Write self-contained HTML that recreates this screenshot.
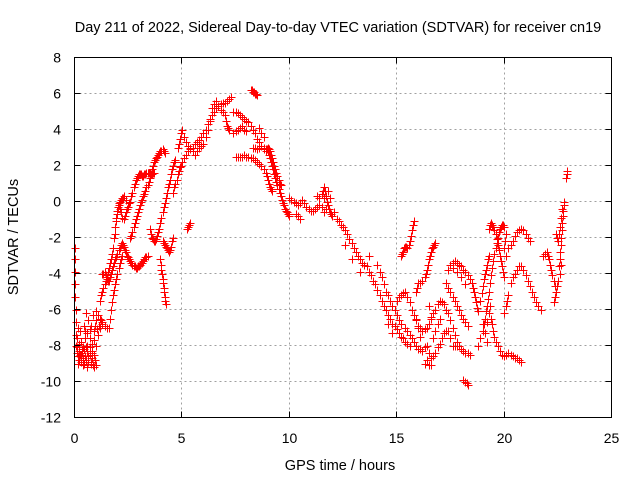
<!DOCTYPE html>
<html><head><meta charset="utf-8"><style>
body{margin:0;background:#fff}
svg{display:block;font-family:"Liberation Sans",sans-serif}
</style></head><body>
<svg id="chart" width="640" height="480">
<rect width="640" height="480" fill="#fff"/>
<g id="grid"></g>
<g id="pts"></g>
<rect x="74.5" y="57.5" width="537" height="360" fill="none" stroke="#000"/>
<g id="axes"></g>
<text x="338" y="32" font-size="14.5" text-anchor="middle">Day 211 of 2022, Sidereal Day-to-day VTEC variation (SDTVAR) for receiver cn19</text>
<text x="340" y="470" font-size="14.5" text-anchor="middle">GPS time / hours</text>
<text transform="translate(18,237) rotate(-90)" font-size="14.5" text-anchor="middle">SDTVAR / TECUs</text>
</svg>
<script>
const xTicks=[0,5,10,15,20,25];
const yTicks=[8,6,4,2,0,-2,-4,-6,-8,-10,-12];
const trackStart=[[0,-2.6],[0.01,-3.2],[0.02,-3.9],[0.03,-4.6],[0.04,-5.3],[0.05,-6],[0.06,-6.7],[0.07,-7.4],[0.08,-8],[0.1,-8.4],[0.15,-8.6],[0.2,-8.8],[0.25,-8.5],[0.3,-8.9],[0.35,-8.2],[0.4,-8.7],[0.45,-9],[0.5,-8.6],[0.55,-8.8],[0.6,-8.3],[0.65,-8.9],[0.7,-8.5],[0.75,-9],[0.8,-8.7],[0.85,-9.1],[0.9,-9.2],[0.95,-8.8],[1,-9.1],[0.12,-8.1],[0.22,-8.3],[0.32,-8.5],[0.42,-8.2],[0.52,-8.1],[0.62,-8.6],[0.72,-8.1],[0.82,-8.4],[0.92,-8.5],[0.18,-9],[0.38,-9.1],[0.58,-9.2],[0.78,-8.9]];
const trackCluster=[[0.1,-7.6],[0.2,-7.9],[0.3,-7.8],[0.4,-8.1],[0.5,-7.6],[0.6,-7.3],[0.7,-7.6],[0.8,-7.9],[0.9,-7.2],[0.55,-6.2],[0.65,-6.6],[0.75,-6.9],[0.85,-6.3],[1.0,-6.6],[0.25,-7.2],[0.45,-6.9],[0.15,-7],[0.35,-8.4],[0.6,-8],[0.8,-8.3],[1.1,-7.4],[1.2,-7],[1.3,-6.8],[0.5,-7.2],[0.7,-7.1],[0.9,-7.7],[1.0,-8],[1.05,-7.1],[1.15,-6.9],[1.25,-6.6],[0.95,-6.9]];
const trackRise1=[[1.2,-5.5],[1.25,-5.2],[1.3,-5],[1.35,-4.8],[1.4,-4.6],[1.45,-4.4],[1.5,-4.2],[1.55,-3.9],[1.6,-3.7],[1.65,-3.4],[1.7,-3.2],[1.75,-2.9],[1.8,-2.6],[1.85,-2],[1.9,-1.4],[1.95,-0.9],[2,-0.5],[2.05,-0.1],[2.1,0],[2.15,0.1],[2.2,0.2],[2.25,0.2],[2.3,0.3],[2.4,0.1],[1.88,-1.8],[1.92,-1.1],[1.98,-0.7],[2.02,-0.3],[2.08,-0.2],[2.12,-0.4],[2.18,-0.6],[2.22,-0.9]];
const trackRise2=[[1.3,-4],[1.35,-4],[1.4,-3.9],[1.45,-4.1],[1.5,-4.3],[1.55,-4.4],[1.6,-4.4],[1.65,-4.2],[1.7,-4],[1.75,-3.8],[1.8,-3.6],[1.85,-3.4],[1.9,-3.2],[1.95,-3.1],[2,-2.9],[2.05,-2.7],[2.1,-2.6],[2.15,-2.4],[2.2,-2.3],[2.25,-2.4],[2.3,-2.5],[2.35,-2.7],[2.4,-2.8],[2.45,-3],[2.5,-3.1],[2.55,-3.2],[2.6,-3.3],[2.65,-3.4],[2.7,-3.5],[2.75,-3.6],[2.8,-3.6],[2.85,-3.7],[2.9,-3.7],[2.95,-3.6],[3.0,-3.6],[3.05,-3.5],[3.1,-3.4],[3.15,-3.4],[3.2,-3.3],[3.25,-3.2],[3.3,-3.1],[3.35,-3.1],[3.4,-3]];
const trackRise3=[[1.6,-7],[1.65,-6.5],[1.7,-6],[1.75,-5.6],[1.8,-5.2],[1.85,-4.9],[1.9,-4.6],[1.95,-4.3],[2,-4],[2.05,-3.7],[2.1,-3.4],[2.15,-3.2],[2.2,-3],[1.0,-6.1],[1.1,-6.3],[1.2,-6.5],[1.3,-6.7],[1.4,-6.9],[1.5,-7]];
const trackMid1=[[2.3,-1],[2.35,-0.8],[2.4,-0.6],[2.45,-0.4],[2.5,-0.3],[2.55,-0.1],[2.6,0],[2.65,0.3],[2.7,0.5],[2.75,0.8],[2.8,1],[2.85,1.2],[2.9,1.3],[2.95,1.4],[3.0,1.5],[3.05,1.5],[3.1,1.5],[3.15,1.4],[3.2,1.4],[3.25,1.5],[3.3,1.5],[3.35,1.6],[3.4,1.6],[3.45,1.6],[3.5,1.6],[3.55,1.5],[3.6,1.5],[3.65,1.6],[3.7,1.6]];
const trackMid2=[[2.6,-2],[2.65,-1.9],[2.7,-1.7],[2.75,-1.4],[2.8,-1.2],[2.85,-1],[2.9,-0.8],[2.95,-0.6],[3.0,-0.4],[3.05,-0.2],[3.1,0],[3.15,0.1],[3.2,0.3],[3.25,0.4],[3.3,0.6],[3.35,0.8],[3.4,0.9],[3.45,1.1],[3.5,1.3],[3.55,1.5],[3.6,1.8],[3.65,2],[3.7,2.2],[3.75,2.3],[3.8,2.4],[3.85,2.5],[3.9,2.6],[3.95,2.7],[4.0,2.8],[4.05,2.8],[4.1,2.9],[4.15,2.8],[4.2,2.7]];
const trackMid3=[[3.5,-1.5],[3.55,-1.8],[3.6,-2],[3.65,-2.1],[3.7,-2.2],[3.75,-2.2],[3.8,-2.1],[3.85,-1.9],[3.9,-1.7],[3.95,-1.5],[4.0,-1.2],[4.05,-0.9],[4.1,-0.6],[4.15,-0.3],[4.2,-0.1],[4.25,0.2],[4.3,0.5],[4.35,0.8],[4.4,1],[4.45,1.2],[4.5,1.5],[4.55,1.8],[4.6,2],[4.65,2.2],[4.7,2.3]];
const trackDrop=[[4.0,-3.2],[4.03,-3.5],[4.05,-3.8],[4.08,-4],[4.1,-4.3],[4.13,-4.5],[4.15,-4.8],[4.18,-5],[4.2,-5.3],[4.23,-5.5],[4.25,-5.7]];
const trackDip=[[4.1,-2.2],[4.15,-2.3],[4.2,-2.4],[4.25,-2.5],[4.3,-2.6],[4.35,-2.7],[4.4,-2.8],[4.45,-2.7],[4.5,-2.5],[4.55,-2.2],[4.6,-2]];
const trackMain=[[4.6,0.5],[4.65,0.8],[4.7,1],[4.75,1.2],[4.8,1.5],[4.85,1.7],[4.9,1.9],[4.95,2],[5.0,2.2],[5.1,2.4],[5.2,2.6],[5.3,2.8],[5.4,2.9],[5.5,3],[5.6,3.2],[5.7,3.3],[5.8,3.4],[5.9,3.6],[6.0,3.8],[6.1,4],[6.2,4.3],[6.3,4.5],[6.4,4.8],[6.5,5],[6.6,5.2],[6.7,5.3],[6.8,5.4],[6.9,5.5],[7.0,5.5],[7.1,5.6],[7.2,5.7],[7.3,5.8]];
const trackMain2=[[4.8,3],[4.85,3.2],[4.9,3.5],[4.95,3.8],[5.0,4],[5.1,3.6],[5.2,3.3],[5.3,3.1],[5.4,3.0],[5.5,2.8],[5.6,2.6],[5.7,2.8],[5.8,3],[5.9,3.1],[6.0,3.2],[6.1,3.6],[6.2,4],[6.3,4.6],[6.4,5.2],[6.5,5.4],[6.6,5.6],[6.7,5.3],[6.8,5.1],[6.9,5],[7.0,4.8],[7.05,4.5],[7.1,4.2],[7.15,4.1],[7.2,4.0],[5.3,-1.4],[5.35,-1.3],[5.4,-1.2],[5.25,-1.5]];
const trackPeak=[[8.2,6.2],[8.25,6.2],[8.3,6.1],[8.35,6.1],[8.4,6.0],[8.45,6.0],[8.5,5.9]];
const trackDecl1=[[7.4,5],[7.5,5],[7.6,4.9],[7.7,4.8],[7.8,4.7],[7.9,4.6],[8.0,4.5],[8.1,4.4],[8.2,4.2],[8.3,4],[8.4,3.8],[8.5,3.5],[8.6,3.3],[8.7,3.1],[8.8,3],[8.9,2.9],[9.0,2.8],[9.05,2.6],[9.1,2.4],[9.15,2.2],[9.2,2],[9.25,1.8],[9.3,1.5],[9.35,1.3],[9.4,1.1],[9.45,0.9],[9.5,0.7],[9.55,0.5],[9.6,0.3],[9.65,0.1],[9.7,-0.1],[9.75,-0.2],[9.8,-0.4],[9.85,-0.5],[9.9,-0.6],[9.95,-0.7],[10.0,-0.8]];
const trackDecl2=[[7.5,2.5],[7.6,2.5],[7.7,2.5],[7.8,2.5],[7.9,2.6],[8.0,2.5],[8.1,2.5],[8.2,2.4],[8.3,2.4],[8.4,2.3],[8.5,2.2],[8.6,2.1],[8.7,2.0],[8.8,1.8],[8.9,1.6],[8.95,1.4],[9.0,1.2],[9.05,1],[9.1,0.8],[9.15,0.7],[9.2,0.6]];
const trackDecl3=[[8.3,3],[8.4,3],[8.5,2.9],[8.6,3],[8.7,3.1],[8.8,2.9],[8.9,2.8],[8.95,2.9],[9.0,3],[9.05,2.9],[9.1,2.8],[9.15,2.6],[9.2,2.4],[9.25,2.2],[9.3,2],[9.35,1.8],[9.4,1.6],[9.45,1.4],[9.5,1.2],[9.55,1.0],[9.6,0.9],[7.4,3.8],[7.5,3.9],[7.6,4.0],[7.7,4.1],[7.8,4.2],[7.9,4.0],[8.0,3.9],[8.6,4.1],[8.7,3.8],[8.8,3.6]];
const trackFlat=[[10.0,0.2],[10.1,0.1],[10.2,0],[10.3,-0.1],[10.4,-0.2],[10.5,-0.1],[10.6,0.1],[10.7,-0.1],[10.8,-0.3],[10.9,-0.4],[11.0,-0.5],[11.1,-0.5],[11.2,-0.4],[11.3,-0.3],[11.4,-0.2],[11.5,0.4],[11.55,0.6],[11.6,0.8],[11.65,0.6],[11.7,0.3],[11.75,0],[11.8,-0.2],[11.85,-0.4],[11.9,-0.6],[11.95,-0.7],[12.0,-0.8],[12.1,-0.6],[10.3,-0.7],[10.4,-0.8],[10.5,-1],[11.3,0.3],[11.4,0.2],[11.6,-0.6],[11.7,-0.4],[11.8,0.6],[11.9,0.2],[11.5,-0.3],[11.6,0.2]];
const trackFall=[[12.2,-1],[12.3,-1.1],[12.4,-1.3],[12.5,-1.4],[12.6,-1.6],[12.7,-1.8],[12.8,-2.1],[12.9,-2.3],[13.0,-2.6],[13.1,-2.8],[13.2,-3],[13.3,-3.2],[13.4,-3.4],[13.5,-3.5],[13.6,-3.6],[13.7,-3.9],[13.8,-4.1],[13.9,-4.4],[14.0,-4.6],[14.1,-4.9],[14.2,-5.2],[14.3,-5.5],[14.4,-5.8],[14.5,-6],[14.6,-6.3],[14.7,-6.5],[14.8,-6.8],[14.9,-6.9],[15.0,-7.1],[15.1,-7.3],[15.2,-7.5],[15.3,-7.6],[15.4,-7.8],[15.5,-7.9],[15.6,-8],[12.6,-2.4],[12.9,-3.2],[13.3,-3.9],[13.7,-3],[14.1,-3.5],[14.2,-3.9],[14.3,-4.2],[14.4,-4.6],[14.5,-5],[14.6,-5.2],[14.7,-5.5],[14.8,-5.8],[14.9,-6],[15.0,-6.3],[15.1,-6.6],[15.2,-6.8],[14.6,-6.8],[14.8,-7.3]];
const trackLate1=[[15.2,-3],[15.25,-2.9],[15.3,-2.8],[15.35,-2.6],[15.4,-2.5],[15.45,-2.5],[15.5,-2.6],[15.55,-2.4],[15.6,-2.2],[15.65,-1.9],[15.7,-1.6],[15.75,-1.3],[15.8,-1.1]];
const trackLate2=[[15.0,-5.5],[15.1,-5.3],[15.2,-5.2],[15.3,-5.1],[15.4,-5],[15.5,-5.3],[15.6,-5.6],[15.7,-6],[15.8,-6.3],[15.9,-6.6],[16.0,-6.9],[16.1,-7],[16.2,-7.2],[16.3,-7.1],[16.4,-7],[16.5,-6.8],[16.6,-6.5],[16.7,-6.2],[16.8,-6],[16.9,-5.7],[17.0,-5.5],[17.1,-5.6],[17.2,-5.7],[17.3,-6],[17.4,-6.2],[17.5,-6.6],[17.6,-7],[17.7,-7.4],[17.8,-7.8],[17.9,-8],[18.0,-8.2],[18.1,-8.3],[18.2,-8.4],[18.3,-8.4],[18.4,-8.5]];
const trackLate3=[[15.4,-7],[15.5,-7.2],[15.6,-7.4],[15.7,-7.6],[15.8,-7.8],[15.9,-8],[16.0,-8.2],[16.1,-8.2],[16.2,-8.3],[16.3,-8.1],[16.4,-8],[16.5,-8.4],[16.6,-8.7],[16.7,-8.6],[16.8,-8.4],[16.9,-8.1],[17.0,-7.9],[17.1,-7.6],[17.2,-7.3],[17.3,-7.2],[17.4,-7.2],[17.5,-7.6],[17.6,-8],[17.7,-8],[17.8,-8],[16.3,-9],[16.4,-8.8],[16.5,-9.1],[16.6,-9.1],[15.9,-6.5],[16.0,-7],[16.1,-7.5],[16.5,-5.8],[16.6,-6.4],[16.7,-7.6],[16.8,-7.2],[16.9,-6.8],[17.0,-6.5]];
const trackLate4=[[16.3,-4.2],[16.35,-4],[16.4,-3.8],[16.45,-3.5],[16.5,-3.2],[16.55,-3],[16.6,-2.8],[16.65,-2.6],[16.7,-2.5],[16.75,-2.4],[16.8,-2.3],[16.0,-4.5],[15.95,-4.8],[15.9,-5],[16.2,-4.4],[16.1,-4.5]];
const trackLate5=[[17.5,-3.5],[17.6,-3.4],[17.7,-3.3],[17.8,-3.4],[17.9,-3.5],[18.0,-3.6],[18.1,-3.8],[18.2,-3.9],[18.3,-4.1],[18.4,-4.3],[18.5,-4.5],[18.55,-4.8],[18.6,-5],[18.65,-5.3],[18.7,-5.6],[18.75,-5.9],[18.8,-6.1],[17.3,-4.5],[17.4,-4.8],[17.5,-5],[17.6,-5.3],[17.7,-5.5],[17.8,-5.8],[17.9,-6],[18.0,-6.3],[18.1,-6.5],[18.2,-6.7],[18.3,-6.9],[18.2,-10],[18.25,-10.1],[18.3,-10.2],[18.1,-9.9],[17.4,-3.8],[17.6,-3.7],[17.8,-3.9],[18.0,-4.2],[18.2,-4.6]];
const trackLate6=[[18.8,-8],[18.9,-7.6],[19.0,-7.2],[19.05,-6.8],[19.1,-6.5],[19.15,-6.1],[19.2,-5.8],[19.25,-5.4],[19.3,-5],[19.35,-4.5],[19.4,-4.1],[19.45,-3.7],[19.5,-3.3],[19.55,-2.9],[19.6,-2.6],[19.65,-2.3],[19.7,-2],[19.75,-1.7],[19.8,-1.5],[19.85,-1.4],[19.9,-1.3],[19.95,-1.3],[20.0,-1.4],[19.3,-1.5],[19.35,-1.3],[19.4,-1.2],[19.45,-1.3],[19.5,-1.4],[19.55,-1.6],[19.6,-1.8],[19.65,-2.1],[19.7,-2.4],[19.75,-2.7],[19.8,-3],[19.85,-3.3],[19.9,-3.6],[19.95,-3.9],[20.0,-4.2],[19.0,-4.7],[19.05,-4.3],[19.1,-4],[19.15,-3.8],[19.2,-3.5],[19.25,-3.2],[19.3,-3],[18.9,-5.5],[18.95,-5.1],[19.4,-6.5],[19.45,-6.8],[19.5,-7.2],[19.55,-7.5],[19.6,-7.8],[19.7,-8],[19.8,-8.3],[19.9,-8.5],[20.0,-8.6],[20.1,-8.5],[20.2,-8.4],[20.3,-8.5],[20.4,-8.6],[20.5,-8.7],[20.6,-8.7],[20.7,-8.8],[20.8,-8.9],[19.2,-7.8],[19.1,-7.3],[19.0,-6.8],[19.3,-6.2],[19.35,-5.8],[19.2,-6.7]];
const trackLate7=[[20.2,-2.6],[20.3,-2.4],[20.4,-2.2],[20.5,-1.9],[20.6,-1.7],[20.7,-1.6],[20.8,-1.5],[20.9,-1.6],[21.0,-1.8],[21.1,-2],[21.2,-2.2],[20.3,-4.5],[20.4,-4.2],[20.5,-4],[20.6,-3.8],[20.7,-3.6],[20.8,-3.6],[20.9,-3.8],[21.0,-4.1],[21.1,-4.4],[21.2,-4.7],[21.3,-5],[21.4,-5.3],[21.5,-5.6],[21.6,-5.8],[21.7,-6],[20.2,-5.2],[20.15,-5.5],[20.1,-5.8],[20.0,-6.2],[20.1,-3],[20.0,-2.6],[20.05,-2.2],[20.1,-1.8]];
const trackEnd=[[21.8,-3],[21.9,-2.9],[22.0,-2.8],[22.05,-3],[22.1,-3.2],[22.15,-3.5],[22.2,-3.8],[22.25,-4.1],[22.3,-4.4],[22.35,-4.7],[22.4,-5],[22.45,-4.7],[22.5,-4.4],[22.55,-3.6],[22.58,-3.2],[22.6,-2.8],[22.63,-2.4],[22.65,-2],[22.68,-1.6],[22.7,-1.2],[22.73,-0.8],[22.75,-0.5],[22.78,-0.2],[22.8,0],[22.5,-2.2],[22.45,-2],[22.4,-1.8],[22.6,-4],[22.65,-3.5],[22.3,-5.6],[22.35,-5.3],[22.9,1.3],[22.92,1.5],[22.95,1.7],[22.55,-1.8],[22.6,-1.4],[22.65,-0.9],[22.7,-0.4]];
const tracks=[trackStart,trackCluster,trackRise1,trackRise2,trackRise3,trackMid1,trackMid2,trackMid3,trackDrop,trackDip,trackMain,trackMain2,trackPeak,trackDecl1,trackDecl2,trackDecl3,trackFlat,trackFall,trackLate1,trackLate2,trackLate3,trackLate4,trackLate5,trackLate6,trackLate7,trackEnd];

const X0=74.5,X1=611.5,Y0=417.5,Y1=57.5;
const xs=v=>X0+(v-0)/(25-0)*(X1-X0);
const ys=v=>Y0-(v+12)/20*(Y0-Y1);
const NS='http://www.w3.org/2000/svg';
const grid=document.getElementById('grid'),axes=document.getElementById('axes'),pts=document.getElementById('pts');
function mk(tag,attrs,parent){const e=document.createElementNS(NS,tag);for(const k in attrs)e.setAttribute(k,attrs[k]);parent.appendChild(e);return e;}
xTicks.forEach(t=>{const x=Math.round(xs(t)-0.5)+0.5;
 if(t>0&&t<25){const g=mk('line',{x1:x,x2:x,y1:Y1,y2:Y0,stroke:'#a0a0a0','stroke-dasharray':'2,3'},grid);
 
 }
 const tk=mk('path',{d:`M${x} ${Y0}v-6M${x} ${Y1}v6`,stroke:'#000'},axes);
 
 
 const lb=mk('text',{x:x,y:443,'font-size':14,'text-anchor':'middle'},axes);lb.textContent=t;
 
 
});
yTicks.forEach(t=>{const y=ys(t);
 if(t>-12&&t<8){const g=mk('line',{x1:X0,x2:X1,y1:y,y2:y,stroke:'#a0a0a0','stroke-dasharray':'2,3'},grid);
 
 }
 const tk=mk('path',{d:`M${X0} ${y}h6M${X1} ${y}h-6`,stroke:'#000'},axes);
 
 
 const lb=mk('text',{x:61,y:y+5,'font-size':14,'text-anchor':'end'},axes);lb.textContent=t;
 
 
});
tracks.forEach(tr=>{let d='';tr.forEach(p=>{const x=Math.round(xs(p[0]))+0.5,y=Math.round(ys(p[1]))+0.5;d+=`M${x-4} ${y}h8M${x} ${y-4}v8`;});
 const path=mk('path',{d:d,stroke:'#ff0000','stroke-width':1.3,fill:'none','shape-rendering':'crispEdges'},pts);
 
 
});
</script>
</body></html>
